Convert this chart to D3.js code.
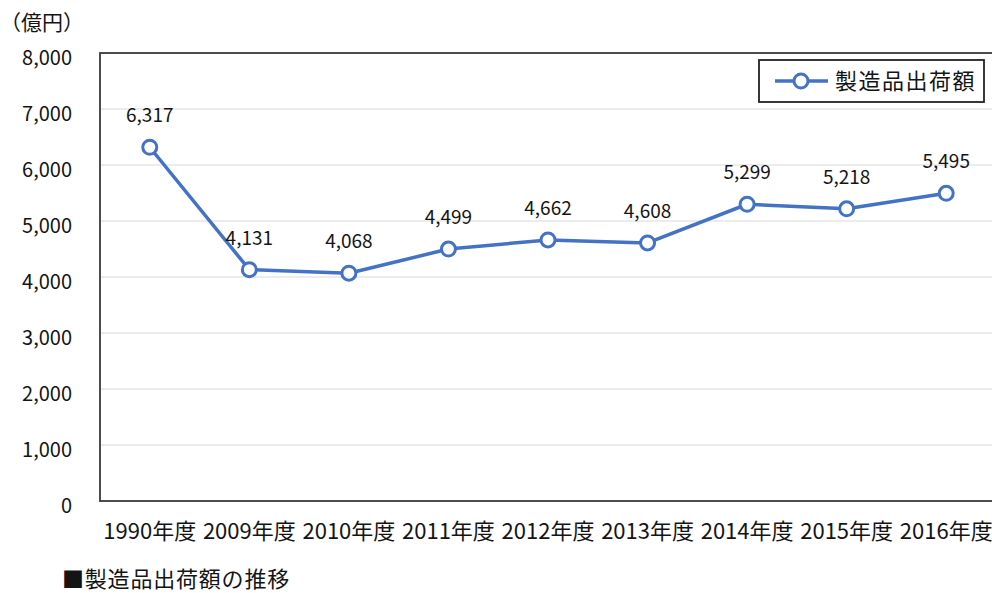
<!DOCTYPE html>
<html lang="ja">
<head>
<meta charset="utf-8">
<script src="https://cdn.jsdelivr.net/npm/d3@7"></script>
<style>
  html, body { margin: 0; padding: 0; background: #fff; }
  svg { display: block; font-family: "Noto Sans CJK JP", "Noto Sans", sans-serif; }
</style>
</head>
<body>
<svg id="chart" width="992" height="593"></svg>
<script>
// 製造品出荷額（億円）
const years = ["1990年度", "2009年度", "2010年度", "2011年度", "2012年度",
               "2013年度", "2014年度", "2015年度", "2016年度"];
const shipments = [6317, 4131, 4068, 4499, 4662, 4608, 5299, 5218, 5495];
const yTicks = [0, 1000, 2000, 3000, 4000, 5000, 6000, 7000, 8000];
const seriesName = "製造品出荷額";
const unitLabel = "（億円）";
const caption = "■製造品出荷額の推移";

const svg = d3.select("#chart");
const plot = { left: 100, right: 996, top: 53, bottom: 501 };
const blue = "#4472C4";
const ink = "#141414";

const x = d3.scaleBand().domain(years).range([plot.left, plot.right]);
const y = d3.scaleLinear().domain([0, 8000]).range([plot.bottom, plot.top]);
const fmt = d3.format(",");

// horizontal gridlines
svg.append("g")
  .selectAll("line")
  .data(yTicks.filter(d => d > 0 && d < 8000))
  .join("line")
  .attr("x1", plot.left).attr("x2", plot.right)
  .attr("y1", d => y(d)).attr("y2", d => y(d))
  .attr("stroke", "#d9d9d9").attr("stroke-width", 1.2);

// plot frame
svg.append("rect")
  .attr("x", plot.left).attr("y", plot.top)
  .attr("width", plot.right - plot.left).attr("height", plot.bottom - plot.top)
  .attr("fill", "none").attr("stroke", "#3a3a3a").attr("stroke-width", 1.8);

// y axis labels
const yAxis = d3.axisLeft(y).tickValues(yTicks).tickFormat(fmt).tickSize(0).tickPadding(28);
const gy = svg.append("g").attr("transform", `translate(${plot.left},0)`).call(yAxis);
gy.select(".domain").remove();
gy.selectAll("text")
  .attr("font-size", 20).attr("fill", ink)
  .attr("font-family", "'Noto Sans CJK JP', sans-serif")
  .attr("dy", "0.55em");

// x axis labels
const xAxis = d3.axisBottom(x).tickSize(0).tickPadding(22);
const gx = svg.append("g").attr("transform", `translate(0,${plot.bottom})`).call(xAxis);
gx.select(".domain").remove();
gx.selectAll("text")
  .attr("font-size", 22).attr("fill", ink)
  .attr("font-family", "'Noto Sans CJK JP', sans-serif");

// unit label
svg.append("text")
  .attr("x", 0).attr("y", 30)
  .attr("font-size", 21).attr("fill", ink)
  .text(unitLabel);

// series line
const cx = d => x(d) + x.bandwidth() / 2;
const line = d3.line().x((d, i) => cx(years[i])).y(d => y(d));
svg.append("path")
  .datum(shipments)
  .attr("d", line)
  .attr("fill", "none").attr("stroke", blue)
  .attr("stroke-width", 3.5).attr("stroke-linejoin", "round");

// markers
svg.append("g")
  .selectAll("circle")
  .data(shipments)
  .join("circle")
  .attr("cx", (d, i) => cx(years[i]))
  .attr("cy", d => y(d))
  .attr("r", 7)
  .attr("fill", "#fff").attr("stroke", blue).attr("stroke-width", 3);

// value labels
svg.append("g")
  .selectAll("text")
  .data(shipments)
  .join("text")
  .attr("x", (d, i) => cx(years[i]))
  .attr("y", d => y(d) - 25)
  .attr("text-anchor", "middle")
  .attr("font-size", 19).attr("fill", ink)
  .text(d => fmt(d));

// legend
const lg = svg.append("g");
lg.append("rect")
  .attr("x", 759).attr("y", 60).attr("width", 225).attr("height", 42)
  .attr("fill", "#fff").attr("stroke", "#222").attr("stroke-width", 1.8);
lg.append("line")
  .attr("x1", 775).attr("x2", 828).attr("y1", 81).attr("y2", 81)
  .attr("stroke", blue).attr("stroke-width", 3.5);
lg.append("circle")
  .attr("cx", 801).attr("cy", 81).attr("r", 7)
  .attr("fill", "#fff").attr("stroke", blue).attr("stroke-width", 3);
lg.append("text")
  .attr("x", 835).attr("y", 89)
  .attr("font-size", 22).attr("letter-spacing", 1.5).attr("fill", ink)
  .text(seriesName);

// caption
svg.append("text")
  .attr("x", 62).attr("y", 587)
  .attr("font-size", 22).attr("letter-spacing", 0.8).attr("fill", ink)
  .text(caption);
</script>
</body>
</html>
